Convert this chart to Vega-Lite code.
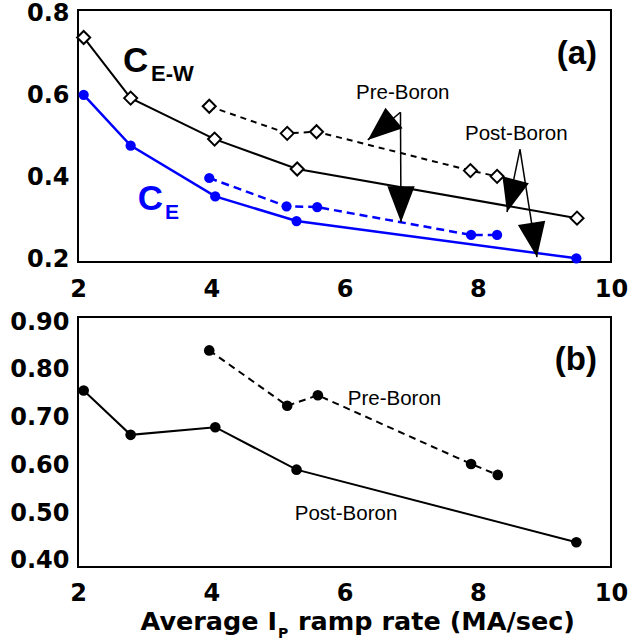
{
  "$schema": "https://vega.github.io/schema/vega-lite/v6.json",
  "background": "white",
  "padding": {"left": 8, "top": 0, "right": 5, "bottom": 5},
  "spacing": 7,
  "config": {
    "view": {"stroke": "black", "strokeWidth": 2},
    "axis": {"domain": false, "grid": false, "ticks": false, "tickSize": 0, "labelColor": "black", "labelFont": "DejaVu Sans", "labelFontWeight": "bold", "labelFontSize": 24, "labelFlush": false, "labelOverlap": false}
  },
  "datasets": {
    "a": [
      {"s": "CEW", "p": "Post", "x": 2.085, "y": 0.741},
      {"s": "CEW", "p": "Post", "x": 2.79, "y": 0.593},
      {"s": "CEW", "p": "Post", "x": 4.05, "y": 0.493},
      {"s": "CEW", "p": "Post", "x": 5.29, "y": 0.42},
      {"s": "CEW", "p": "Post", "x": 9.49, "y": 0.3},
      {"s": "CEW", "p": "Pre", "x": 3.97, "y": 0.573},
      {"s": "CEW", "p": "Pre", "x": 5.14, "y": 0.507},
      {"s": "CEW", "p": "Pre", "x": 5.58, "y": 0.511},
      {"s": "CEW", "p": "Pre", "x": 7.89, "y": 0.416},
      {"s": "CEW", "p": "Pre", "x": 8.29, "y": 0.402},
      {"s": "CE", "p": "Post", "x": 2.085, "y": 0.601},
      {"s": "CE", "p": "Post", "x": 2.79, "y": 0.477},
      {"s": "CE", "p": "Post", "x": 4.06, "y": 0.353},
      {"s": "CE", "p": "Post", "x": 5.28, "y": 0.293},
      {"s": "CE", "p": "Post", "x": 9.48, "y": 0.202},
      {"s": "CE", "p": "Pre", "x": 3.97, "y": 0.398},
      {"s": "CE", "p": "Pre", "x": 5.13, "y": 0.329},
      {"s": "CE", "p": "Pre", "x": 5.59, "y": 0.327},
      {"s": "CE", "p": "Pre", "x": 7.9, "y": 0.259},
      {"s": "CE", "p": "Pre", "x": 8.29, "y": 0.259}
    ],
    "aArrows": [
      {"id": "pre1", "x": 6.84, "y": 0.5585, "tx": 6.848, "ty": 0.29},
      {"id": "pre2", "x": 6.84, "y": 0.5585, "tx": 6.35, "ty": 0.491},
      {"id": "post1", "x": 8.634, "y": 0.468, "tx": 8.439, "ty": 0.315},
      {"id": "post2", "x": 8.634, "y": 0.468, "tx": 8.889, "ty": 0.205}
    ],
    "aHeads": [
      {"id": "pre1", "x": 6.848, "y": 0.29},
      {"id": "pre2", "x": 6.35, "y": 0.491},
      {"id": "post1", "x": 8.439, "y": 0.315},
      {"id": "post2", "x": 8.889, "y": 0.205}
    ],
    "aText": [
      {"id": "Cw", "label": "C", "x": 2.675, "y": 0.656},
      {"id": "Cwsub", "label": "E-W", "x": 3.096, "y": 0.634},
      {"id": "Ce", "label": "C", "x": 2.896, "y": 0.3195},
      {"id": "Cesub", "label": "E", "x": 3.306, "y": 0.298},
      {"id": "tag", "label": "(a)", "x": 9.79, "y": 0.6756},
      {"id": "note", "label": "Pre-Boron", "x": 6.874, "y": 0.591},
      {"id": "note", "label": "Post-Boron", "x": 8.579, "y": 0.491}
    ],
    "xTicks": [
      {"x": 2}, {"x": 2.5}, {"x": 3}, {"x": 3.5}, {"x": 4}, {"x": 4.5}, {"x": 5}, {"x": 5.5}, {"x": 6},
      {"x": 6.5}, {"x": 7}, {"x": 7.5}, {"x": 8}, {"x": 8.5}, {"x": 9}, {"x": 9.5}, {"x": 10}
    ],
    "aYMajor": [{"y": 0.2}, {"y": 0.4}, {"y": 0.6}, {"y": 0.8}],
    "aYMinor": [{"y": 0.25}, {"y": 0.3}, {"y": 0.35}, {"y": 0.45}, {"y": 0.5}, {"y": 0.55}, {"y": 0.65}, {"y": 0.7}, {"y": 0.75}],
    "b": [
      {"p": "Post", "x": 2.085, "y": 0.757},
      {"p": "Post", "x": 2.79, "y": 0.664},
      {"p": "Post", "x": 4.06, "y": 0.68},
      {"p": "Post", "x": 5.28, "y": 0.591},
      {"p": "Post", "x": 9.48, "y": 0.439},
      {"p": "Pre", "x": 3.97, "y": 0.841},
      {"p": "Pre", "x": 5.14, "y": 0.725},
      {"p": "Pre", "x": 5.6, "y": 0.747},
      {"p": "Pre", "x": 7.9, "y": 0.603},
      {"p": "Pre", "x": 8.3, "y": 0.58}
    ],
    "bText": [
      {"id": "tag", "label": "(b)", "x": 9.79, "y": 0.8006},
      {"id": "note", "label": "Pre-Boron", "x": 6.751, "y": 0.7273},
      {"id": "note", "label": "Post-Boron", "x": 6.023, "y": 0.486},
      {"id": "t1", "label": "Average I", "x": 4.987, "y": 0.256},
      {"id": "t2", "label": "P", "x": 5.002, "y": 0.239},
      {"id": "t3", "label": "ramp rate (MA/sec)", "x": 5.302, "y": 0.256}
    ],
    "bYMajor": [{"y": 0.4}, {"y": 0.5}, {"y": 0.6}, {"y": 0.7}, {"y": 0.8}, {"y": 0.9}],
    "bYMinor": [
      {"y": 0.3933}, {"y": 0.4067}, {"y": 0.4133}, {"y": 0.42}, {"y": 0.4267}, {"y": 0.4333}, {"y": 0.44}, {"y": 0.4467}, {"y": 0.4533}, {"y": 0.46}, {"y": 0.4667}, {"y": 0.4733}, {"y": 0.48}, {"y": 0.4867}, {"y": 0.4933},
      {"y": 0.5067}, {"y": 0.5133}, {"y": 0.52}, {"y": 0.5267}, {"y": 0.5333}, {"y": 0.54}, {"y": 0.5467}, {"y": 0.5533}, {"y": 0.56}, {"y": 0.5667}, {"y": 0.5733}, {"y": 0.58}, {"y": 0.5867}, {"y": 0.5933},
      {"y": 0.6067}, {"y": 0.6133}, {"y": 0.62}, {"y": 0.6267}, {"y": 0.6333}, {"y": 0.64}, {"y": 0.6467}, {"y": 0.6533}, {"y": 0.66}, {"y": 0.6667}, {"y": 0.6733}, {"y": 0.68}, {"y": 0.6867}, {"y": 0.6933},
      {"y": 0.7067}, {"y": 0.7133}, {"y": 0.72}, {"y": 0.7267}, {"y": 0.7333}, {"y": 0.74}, {"y": 0.7467}, {"y": 0.7533}, {"y": 0.76}, {"y": 0.7667}, {"y": 0.7733}, {"y": 0.78}, {"y": 0.7867}, {"y": 0.7933},
      {"y": 0.8067}, {"y": 0.8133}, {"y": 0.82}, {"y": 0.8267}, {"y": 0.8333}, {"y": 0.84}, {"y": 0.8467}, {"y": 0.8533}, {"y": 0.86}, {"y": 0.8667}, {"y": 0.8733}, {"y": 0.88}, {"y": 0.8867}, {"y": 0.8933},
      {"y": 0.9067}
    ]
  },
  "vconcat": [
    {
      "width": 533,
      "height": 252,
      "encoding": {
        "x": {"field": "x", "type": "quantitative", "title": null, "scale": {"domain": [2, 10], "nice": false, "zero": false},
          "axis": {"orient": "bottom", "values": [2, 4, 6, 8, 10], "format": "d", "labelPadding": 15, "title": null}},
        "y": {"field": "y", "type": "quantitative", "title": null, "scale": {"domain": [0.193, 0.808], "nice": false, "zero": false},
          "axis": {"orient": "left", "values": [0.2, 0.4, 0.6, 0.8], "format": ".1f", "labelPadding": 9, "title": null}}
      },
      "layer": [
        {
          "data": {"name": "a"},
          "transform": [{"filter": "datum.s === 'CEW' && datum.p === 'Post'"}],
          "mark": {"type": "line", "color": "black", "strokeWidth": 2}
        },
        {
          "data": {"name": "a"},
          "transform": [{"filter": "datum.s === 'CEW' && datum.p === 'Pre'"}],
          "mark": {"type": "line", "color": "black", "strokeWidth": 2, "strokeDash": [6, 5]}
        },
        {
          "data": {"name": "a"},
          "transform": [{"filter": "datum.s === 'CE' && datum.p === 'Post'"}],
          "mark": {"type": "line", "color": "#0000ff", "strokeWidth": 2.5}
        },
        {
          "data": {"name": "a"},
          "transform": [{"filter": "datum.s === 'CE' && datum.p === 'Pre'"}],
          "mark": {"type": "line", "color": "#0000ff", "strokeWidth": 2.5, "strokeDash": [8, 5]}
        },
        {
          "data": {"name": "aArrows"},
          "mark": {"type": "rule", "color": "black", "strokeWidth": 1.5},
          "encoding": {"x2": {"field": "tx"}, "y2": {"field": "ty"}}
        },
        {
          "data": {"name": "a"},
          "transform": [{"filter": "datum.s === 'CEW'"}],
          "mark": {"type": "point", "shape": "diamond", "size": 170, "fill": "white", "stroke": "black", "strokeWidth": 2, "opacity": 1, "fillOpacity": 1}
        },
        {
          "data": {"name": "a"},
          "transform": [{"filter": "datum.s === 'CE'"}],
          "mark": {"type": "circle", "size": 105, "color": "#0000ff", "opacity": 1}
        },
        {
          "data": {"name": "aHeads"},
          "transform": [{"filter": "datum.id === 'pre1'"}],
          "mark": {"type": "point", "shape": "M0,0L-0.38,-1L0.38,-1Z", "size": 5184, "angle": 0, "filled": true, "color": "black", "opacity": 1}
        },
        {
          "data": {"name": "aHeads"},
          "transform": [{"filter": "datum.id === 'pre2'"}],
          "mark": {"type": "point", "shape": "M0,0L-0.39,-1L0.39,-1Z", "size": 4679, "angle": 50, "filled": true, "color": "black", "opacity": 1}
        },
        {
          "data": {"name": "aHeads"},
          "transform": [{"filter": "datum.id === 'post1'"}],
          "mark": {"type": "point", "shape": "M0,0L-0.41,-1L0.41,-1Z", "size": 4462, "angle": 15, "filled": true, "color": "black", "opacity": 1}
        },
        {
          "data": {"name": "aHeads"},
          "transform": [{"filter": "datum.id === 'post2'"}],
          "mark": {"type": "point", "shape": "M0,0L-0.4,-1L0.4,-1Z", "size": 4789, "angle": -9, "filled": true, "color": "black", "opacity": 1}
        },
        {
          "data": {"name": "aText"},
          "transform": [{"filter": "datum.id === 'Cw'"}],
          "mark": {"type": "text", "font": "Liberation Sans", "fontWeight": "bold", "fontSize": 35, "align": "left", "baseline": "alphabetic", "color": "black"},
          "encoding": {"text": {"field": "label"}}
        },
        {
          "data": {"name": "aText"},
          "transform": [{"filter": "datum.id === 'Cwsub'"}],
          "mark": {"type": "text", "font": "Liberation Sans", "fontWeight": "bold", "fontSize": 22, "align": "left", "baseline": "alphabetic", "color": "black"},
          "encoding": {"text": {"field": "label"}}
        },
        {
          "data": {"name": "aText"},
          "transform": [{"filter": "datum.id === 'Ce'"}],
          "mark": {"type": "text", "font": "Liberation Sans", "fontWeight": "bold", "fontSize": 35, "align": "left", "baseline": "alphabetic", "color": "#0000ff"},
          "encoding": {"text": {"field": "label"}}
        },
        {
          "data": {"name": "aText"},
          "transform": [{"filter": "datum.id === 'Cesub'"}],
          "mark": {"type": "text", "font": "Liberation Sans", "fontWeight": "bold", "fontSize": 21, "align": "left", "baseline": "alphabetic", "color": "#0000ff"},
          "encoding": {"text": {"field": "label"}}
        },
        {
          "data": {"name": "aText"},
          "transform": [{"filter": "datum.id === 'tag'"}],
          "mark": {"type": "text", "font": "Liberation Sans", "fontWeight": "bold", "fontSize": 33, "align": "right", "baseline": "alphabetic", "color": "black"},
          "encoding": {"text": {"field": "label"}}
        },
        {
          "data": {"name": "aText"},
          "transform": [{"filter": "datum.id === 'note'"}],
          "mark": {"type": "text", "font": "Liberation Sans", "fontSize": 20.5, "align": "center", "baseline": "alphabetic", "color": "black"},
          "encoding": {"text": {"field": "label"}}
        },
        {
          "data": {"name": "xTicks"},
          "mark": {"type": "rule", "color": "black", "strokeWidth": 1.5, "y2Offset": -5},
          "encoding": {"y": {"datum": 0.193, "type": "quantitative", "title": null}, "y2": {"datum": 0.193}}
        },
        {
          "data": {"name": "xTicks"},
          "mark": {"type": "rule", "color": "black", "strokeWidth": 1.5, "y2Offset": 5},
          "encoding": {"y": {"datum": 0.808, "type": "quantitative", "title": null}, "y2": {"datum": 0.808}}
        },
        {
          "data": {"name": "aYMajor"},
          "mark": {"type": "rule", "color": "black", "strokeWidth": 1.5, "x2Offset": 10},
          "encoding": {"x": {"datum": 2, "type": "quantitative", "title": null}, "x2": {"datum": 2}}
        },
        {
          "data": {"name": "aYMajor"},
          "mark": {"type": "rule", "color": "black", "strokeWidth": 1.5, "x2Offset": -10},
          "encoding": {"x": {"datum": 10, "type": "quantitative", "title": null}, "x2": {"datum": 10}}
        },
        {
          "data": {"name": "aYMinor"},
          "mark": {"type": "rule", "color": "black", "strokeWidth": 1.5, "x2Offset": 5},
          "encoding": {"x": {"datum": 2, "type": "quantitative", "title": null}, "x2": {"datum": 2}}
        },
        {
          "data": {"name": "aYMinor"},
          "mark": {"type": "rule", "color": "black", "strokeWidth": 1.5, "x2Offset": -5},
          "encoding": {"x": {"datum": 10, "type": "quantitative", "title": null}, "x2": {"datum": 10}}
        }
      ]
    },
    {
      "width": 533,
      "height": 250,
      "encoding": {
        "x": {"field": "x", "type": "quantitative", "title": null, "scale": {"domain": [2, 10], "nice": false, "zero": false},
          "axis": {"orient": "bottom", "values": [2, 4, 6, 8, 10], "format": "d", "labelPadding": 14, "title": null}},
        "y": {"field": "y", "type": "quantitative", "title": null, "scale": {"domain": [0.387, 0.911], "nice": false, "zero": false},
          "axis": {"orient": "left", "values": [0.4, 0.5, 0.6, 0.7, 0.8, 0.9], "format": ".2f", "labelPadding": 9, "title": null}}
      },
      "layer": [
        {
          "data": {"name": "b"},
          "transform": [{"filter": "datum.p === 'Post'"}],
          "mark": {"type": "line", "color": "black", "strokeWidth": 2}
        },
        {
          "data": {"name": "b"},
          "transform": [{"filter": "datum.p === 'Pre'"}],
          "mark": {"type": "line", "color": "black", "strokeWidth": 2, "strokeDash": [7, 5]}
        },
        {
          "data": {"name": "b"},
          "mark": {"type": "circle", "size": 113, "color": "black", "opacity": 1}
        },
        {
          "data": {"name": "bText"},
          "transform": [{"filter": "datum.id === 'tag'"}],
          "mark": {"type": "text", "font": "Liberation Sans", "fontWeight": "bold", "fontSize": 33, "align": "right", "baseline": "alphabetic", "color": "black"},
          "encoding": {"text": {"field": "label"}}
        },
        {
          "data": {"name": "bText"},
          "transform": [{"filter": "datum.id === 'note'"}],
          "mark": {"type": "text", "font": "Liberation Sans", "fontSize": 20.5, "align": "center", "baseline": "alphabetic", "color": "black"},
          "encoding": {"text": {"field": "label"}}
        },
        {
          "data": {"name": "bText"},
          "transform": [{"filter": "datum.id === 't1'"}],
          "mark": {"type": "text", "font": "DejaVu Sans", "fontWeight": "bold", "fontSize": 25.5, "align": "right", "baseline": "alphabetic", "color": "black"},
          "encoding": {"text": {"field": "label"}}
        },
        {
          "data": {"name": "bText"},
          "transform": [{"filter": "datum.id === 't2'"}],
          "mark": {"type": "text", "font": "DejaVu Sans", "fontWeight": "bold", "fontSize": 14, "align": "left", "baseline": "alphabetic", "color": "black"},
          "encoding": {"text": {"field": "label"}}
        },
        {
          "data": {"name": "bText"},
          "transform": [{"filter": "datum.id === 't3'"}],
          "mark": {"type": "text", "font": "DejaVu Sans", "fontWeight": "bold", "fontSize": 25.5, "align": "left", "baseline": "alphabetic", "color": "black"},
          "encoding": {"text": {"field": "label"}}
        },
        {
          "data": {"name": "xTicks"},
          "mark": {"type": "rule", "color": "black", "strokeWidth": 1.5, "y2Offset": -4},
          "encoding": {"y": {"datum": 0.387, "type": "quantitative", "title": null}, "y2": {"datum": 0.387}}
        },
        {
          "data": {"name": "xTicks"},
          "mark": {"type": "rule", "color": "black", "strokeWidth": 1.5, "y2Offset": 4},
          "encoding": {"y": {"datum": 0.911, "type": "quantitative", "title": null}, "y2": {"datum": 0.911}}
        },
        {
          "data": {"name": "bYMajor"},
          "mark": {"type": "rule", "color": "black", "strokeWidth": 1.5, "x2Offset": 9},
          "encoding": {"x": {"datum": 2, "type": "quantitative", "title": null}, "x2": {"datum": 2}}
        },
        {
          "data": {"name": "bYMajor"},
          "mark": {"type": "rule", "color": "black", "strokeWidth": 1.5, "x2Offset": -9},
          "encoding": {"x": {"datum": 10, "type": "quantitative", "title": null}, "x2": {"datum": 10}}
        },
        {
          "data": {"name": "bYMinor"},
          "mark": {"type": "rule", "color": "black", "strokeWidth": 1, "x2Offset": 4},
          "encoding": {"x": {"datum": 2, "type": "quantitative", "title": null}, "x2": {"datum": 2}}
        },
        {
          "data": {"name": "bYMinor"},
          "mark": {"type": "rule", "color": "black", "strokeWidth": 1, "x2Offset": -4},
          "encoding": {"x": {"datum": 10, "type": "quantitative", "title": null}, "x2": {"datum": 10}}
        }
      ]
    }
  ]
}
